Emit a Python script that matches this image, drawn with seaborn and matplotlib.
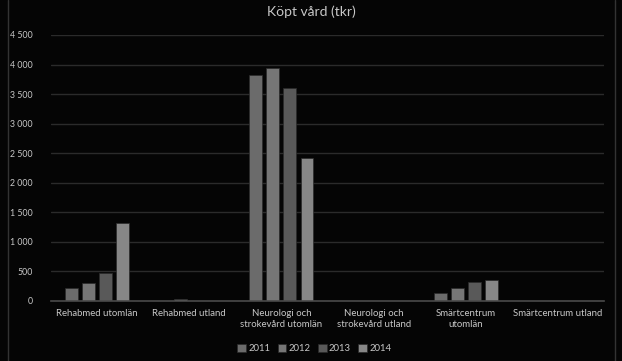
import matplotlib
matplotlib.use("Agg")
import matplotlib.pyplot as plt
import matplotlib.ticker as mticker
from matplotlib.lines import Line2D
import pandas as pd
import seaborn as sns

categories = [
    "Rehabmed utomlän",
    "Rehabmed utland",
    "Neurologi och\nstrokevård utomlän",
    "Neurologi och\nstrokevård utland",
    "Smärtcentrum\nutomlän",
    "Smärtcentrum utland",
]
years = ["2011", "2012", "2013", "2014"]
v2011 = [220, 0, 3830, 0, 135, 0]
v2012 = [305, 35, 3935, 0, 220, 0]
v2013 = [466, 0, 3600, 0, 326, 0]
v2014 = [1323, 0, 2416, 0, 355, 0]
colors = ["#6b6b6b", "#767676", "#595959", "#878787"]

rows = []
for year, vals in zip(years, [v2011, v2012, v2013, v2014]):
    for cat, v in zip(categories, vals):
        rows.append({"kategori": cat, "år": year, "värde": v})
df = pd.DataFrame(rows)

sns.set_style("dark")
plt.rcParams["font.family"] = ["Lato", "DejaVu Sans"]
bg = "#050505"
txt = "#c8c8c8"

fig = plt.figure(figsize=(6.22, 3.61), dpi=100, facecolor=bg)
ax = fig.add_axes([51 / 622, 1 - 301 / 361, 553 / 622, 266 / 361])
ax.set_facecolor(bg)

sns.barplot(data=df, x="kategori", y="värde", hue="år", palette=colors,
            width=0.74, gap=0.24, ax=ax, edgecolor="#2a2a2a", linewidth=0.5,
            legend=True)

ax.set_ylim(0, 4500)
ax.set_xlim(-0.5, len(categories) - 0.5)
ax.yaxis.set_major_locator(mticker.MultipleLocator(500))
ax.yaxis.set_major_formatter(mticker.FuncFormatter(
    lambda v, p: f"{int(v):,}".replace(",", " ")))
ax.grid(axis="y", color="#2b2b2b", linewidth=1.0)
ax.grid(axis="x", visible=False)
ax.set_axisbelow(True)
for s in ["top", "right", "left"]:
    ax.spines[s].set_visible(False)
ax.spines["bottom"].set_color("#4a4a4a")
ax.spines["bottom"].set_linewidth(1.2)

ax.tick_params(axis="y", length=0, pad=13, labelsize=6.3, labelcolor=txt)
ax.tick_params(axis="x", length=0, pad=6, labelsize=6.9, labelcolor=txt)
ax.set_xlabel("")
ax.set_ylabel("")

fig.suptitle("Köpt vård (tkr)", x=0.5, y=0.985, fontsize=10, color=txt)

leg = ax.legend(loc="center", bbox_to_anchor=(0.476, -0.18), ncol=4, frameon=False,
                fontsize=6.8, handlelength=0.9, handleheight=0.9, handletextpad=0.25,
                columnspacing=0.8, labelcolor=txt)

fig.add_artist(Line2D([8 / 622, 8 / 622], [0, 1], color="#333333", linewidth=1))
fig.add_artist(Line2D([615 / 622, 615 / 622], [0, 1], color="#333333", linewidth=1))

fig.savefig("out.png", dpi=100, facecolor=bg)
